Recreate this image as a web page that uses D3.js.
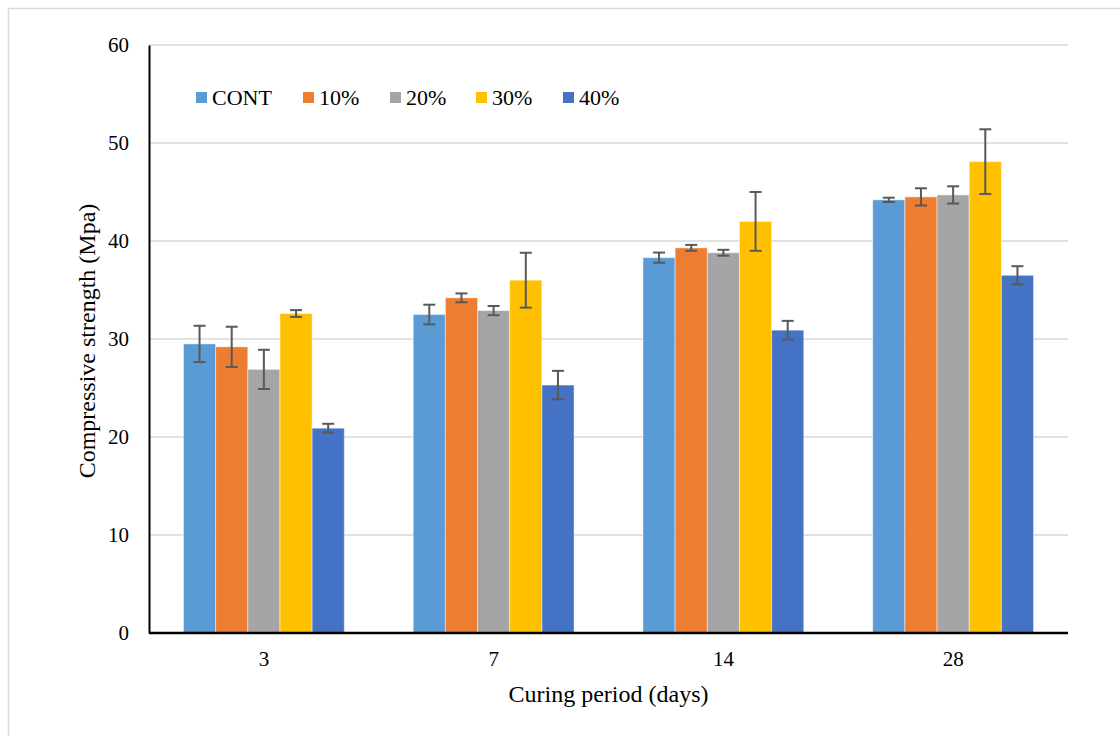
<!DOCTYPE html>
<html>
<head>
<meta charset="utf-8">
<script src="https://cdn.jsdelivr.net/npm/d3@7"></script>
<style>
  html, body { margin: 0; padding: 0; background: #fff; }
  svg { display: block; }
  text { font-family: "Liberation Serif", "Times New Roman", serif; fill: #000; }
</style>
</head>
<body>
<svg id="chart" width="1120" height="736"></svg>
<script>
const categories = ["3", "7", "14", "28"];
const seriesNames = ["CONT", "10%", "20%", "30%", "40%"];
const seriesColors = ["#5B9BD5", "#ED7D31", "#A5A5A5", "#FFC000", "#4472C4"];
const valuesCONT = [29.5, 32.5, 38.3, 44.2];
const values10 = [29.2, 34.2, 39.3, 44.5];
const values20 = [26.9, 32.9, 38.8, 44.7];
const values30 = [32.6, 36.0, 42.0, 48.1];
const values40 = [20.9, 25.3, 30.9, 36.5];
const errorsCONT = [1.85, 1.0, 0.52, 0.22];
const errors10 = [2.05, 0.45, 0.3, 0.88];
const errors20 = [2.0, 0.47, 0.3, 0.88];
const errors30 = [0.35, 2.8, 3.0, 3.3];
const errors40 = [0.45, 1.45, 0.95, 0.93];
const yTicks = [0, 10, 20, 30, 40, 50, 60];
const xTitle = "Curing period (days)";
const yTitle = "Compressive strength (Mpa)";

const allValues = [valuesCONT, values10, values20, values30, values40];
const allErrors = [errorsCONT, errors10, errors20, errors30, errors40];

const svg = d3.select("#chart");
const plotLeft = 149, plotRight = 1068, plotTop = 45, plotBottom = 633;

// outer chart border
svg.append("rect").attr("x", 8.5).attr("y", 8.5).attr("width", 1200).attr("height", 800)
  .attr("fill", "none").attr("stroke", "#d9d9d9").attr("stroke-width", 1.5);

const y = d3.scaleLinear().domain([0, 60]).range([plotBottom, plotTop]);
const x0 = d3.scaleBand().domain(categories).range([plotLeft, plotRight]).paddingInner(0.3).paddingOuter(0.15);
const x1 = d3.scaleBand().domain(seriesNames).range([0, x0.bandwidth()]).padding(0);

// gridlines
svg.append("g").selectAll("line").data(yTicks.filter(t => t > 0)).join("line")
  .attr("x1", plotLeft).attr("x2", plotRight)
  .attr("y1", d => y(d)).attr("y2", d => y(d))
  .attr("stroke", "#d9d9d9").attr("stroke-width", 1.5);

// bars
const data = [];
categories.forEach((c, ci) => {
  seriesNames.forEach((s, si) => {
    data.push({ cat: c, ser: s, v: allValues[si][ci], e: allErrors[si][ci], color: seriesColors[si] });
  });
});

svg.append("g").selectAll("rect").data(data).join("rect")
  .attr("x", d => x0(d.cat) + x1(d.ser))
  .attr("y", d => y(d.v))
  .attr("width", x1.bandwidth())
  .attr("height", d => y(0) - y(d.v))
  .attr("fill", d => d.color)
  .attr("stroke", "#ffffff").attr("stroke-opacity", 0.45).attr("stroke-width", 1);

// error bars
const eg = svg.append("g").attr("stroke", "#595959").attr("stroke-width", 2);
data.forEach(d => {
  const cx = x0(d.cat) + x1(d.ser) + x1.bandwidth() / 2;
  const y1 = y(d.v + d.e), y2 = y(d.v - d.e);
  eg.append("line").attr("x1", cx).attr("x2", cx).attr("y1", y1).attr("y2", y2);
  eg.append("line").attr("x1", cx - 6).attr("x2", cx + 6).attr("y1", y1).attr("y2", y1);
  eg.append("line").attr("x1", cx - 6).attr("x2", cx + 6).attr("y1", y2).attr("y2", y2);
});

// axes
const yAxis = d3.axisLeft(y).tickValues(yTicks).tickSize(0).tickPadding(20);
const yg = svg.append("g").attr("transform", `translate(${plotLeft},0)`).call(yAxis);
yg.select(".domain").attr("stroke", "#000").attr("stroke-width", 2);
yg.selectAll("text").style("font-family", "Liberation Serif").style("font-size", "21px").attr("fill", "#000");

const xAxis = d3.axisBottom(x0).tickSize(0).tickPadding(18);
const xg = svg.append("g").attr("transform", `translate(0,${plotBottom})`).call(xAxis);
xg.select(".domain").attr("stroke", "#000").attr("stroke-width", 2.5).attr("d", `M${plotLeft},0H${plotRight}`);
xg.selectAll("text").style("font-family", "Liberation Serif").style("font-size", "21px").attr("fill", "#000");

// axis titles
svg.append("text").attr("x", (plotLeft + plotRight) / 2).attr("y", 702).attr("text-anchor", "middle")
  .style("font-size", "24px").text(xTitle);
svg.append("text").attr("transform", `translate(95,${(plotTop + plotBottom) / 2 + 2}) rotate(-90)`)
  .attr("text-anchor", "middle").style("font-size", "24px").text(yTitle);

// legend
const legendX = [196, 303, 390, 476, 563];
const lg = svg.append("g");
seriesNames.forEach((s, i) => {
  lg.append("rect").attr("x", legendX[i]).attr("y", 92).attr("width", 11).attr("height", 11).attr("fill", seriesColors[i]);
  lg.append("text").attr("x", legendX[i] + 16).attr("y", 105).style("font-size", "22px").text(s);
});
</script>
</body>
</html>
